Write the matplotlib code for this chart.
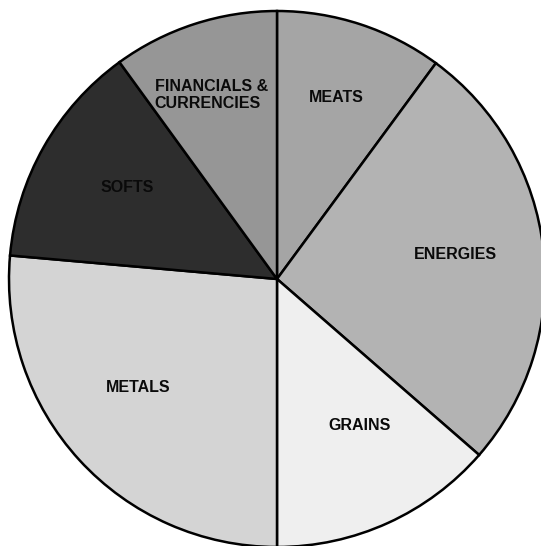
import numpy as np
import matplotlib.pyplot as plt

# Доли секторов (в процентах), по часовой стрелке от вертикали
sectors = ["MEATS", "ENERGIES", "GRAINS", "METALS", "SOFTS", "FINANCIALS &\nCURRENCIES"]
shares = [10.1, 26.3, 13.6, 26.4, 13.6, 10.0]

colors = ["#a5a5a5", "#b3b3b3", "#efefef", "#d4d4d4", "#2d2d2d", "#969696"]
# положение подписей: угол по часовой от вертикали (град.) и доля радиуса
label_ang = [18.0, 82.3, 150.4, 231.8, 301.5, 340.4]
label_r = [0.714, 0.670, 0.627, 0.657, 0.657, 0.729]

fig = plt.figure(figsize=(5.41, 5.46), dpi=100)
ax = fig.add_axes([0, 0, 1, 1])

wedges, _ = ax.pie(shares, colors=colors, startangle=90, counterclock=False,
                   wedgeprops=dict(edgecolor="black", linewidth=1.8))

for name, a, r in zip(sectors, label_ang, label_r):
    t = np.deg2rad(90 - a)
    ax.text(r * np.cos(t), r * np.sin(t), name, ha="center", va="center",
            fontsize=11.5, fontweight="bold", family="Liberation Sans",
            multialignment="left", color="#0a0a0a")

# центр круга в (277, 279) px, радиус 268 px
ax.set_aspect("auto")
ax.set_xlim(-277 / 268, (541 - 277) / 268)
ax.set_ylim(-(546 - 279) / 268, 279 / 268)
ax.axis("off")

fig.savefig("out.png", dpi=100)
